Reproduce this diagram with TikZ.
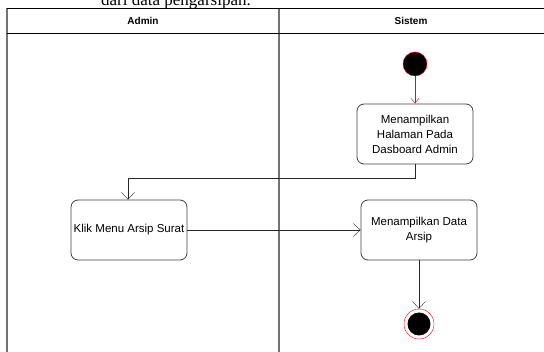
\documentclass[tikz,border=0pt]{standalone}
\usepackage{fontspec}
\setmainfont{Liberation Sans}
\newfontfamily\serifcap{Liberation Serif}
\usetikzlibrary{arrows.meta,positioning}

\begin{document}
\begin{tikzpicture}[x=1pt,y=-1pt,
  act/.style={draw=black!75,thick,rounded corners=7pt,minimum width=116pt,minimum height=60pt,
    align=center,font=\fontsize{11.5}{15}\selectfont,inner sep=1pt},
  lane/.style={font=\bfseries\fontsize{10}{11}\selectfont},
  flow/.style={draw=black!85,-{Straight Barb[length=7pt,width=13pt]}},
  startflow/.style={draw=red,-{Straight Barb[length=5pt,width=8pt]}}]
\useasboundingbox (0,0) rectangle (544,352);
\node[anchor=base,font=\serifcap\fontsize{17}{17}\selectfont] (cap) at (176,6) {dari data pengarsipan.};
% swimlanes
\draw[black!55,line width=1.5pt] (7,8) -- (7,352) (279,8) -- (279,352);
\draw[black,thick] (7,8) -- (544,8) (7,33) -- (544,33);
\node[lane] (admin) at (143,20.5) {Admin};
\node[lane] (sistem) at (411,20.5) {Sistem};
% nodes
\node[circle,fill=black,draw=red,minimum size=24pt,inner sep=0pt] (start) at (415,64) {};
\node[act] (tampil) at (415,134) {Menampilkan\\Halaman Pada\\Dasboard Admin};
\node[act] (klik) at (129,230) {Klik Menu Arsip Surat};
\node[act] (data) at (419,230) {Menampilkan Data\\Arsip};
\node[circle,draw=red,fill=white,minimum size=30pt,inner sep=0pt] (end) at (419,324) {};
\node[circle,fill=black,minimum size=23pt,inner sep=0pt] (endin) at (end) {};
% flows
\draw[startflow] (start) -- (tampil);
\draw[flow] (tampil.south) |- (128,178) -- (klik.north -| 128,0);
\draw[flow] (klik) -- (data);
\draw[flow] (data) -- (end);
\end{tikzpicture}
\end{document}
